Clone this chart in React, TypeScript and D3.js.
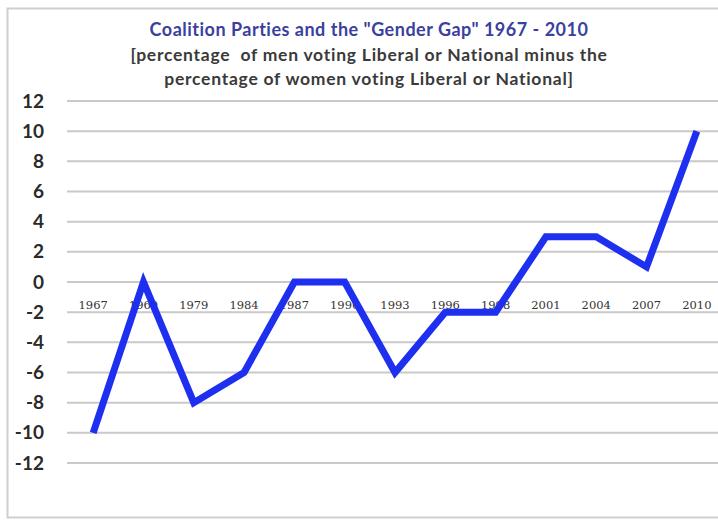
import React from "react";
import * as d3 from "d3";

const years = ["1967", "1969", "1979", "1984", "1987", "1990", "1993", "1996", "1998", "2001", "2004", "2007", "2010"];
const gap = [-10, 0, -8, -6, 0, 0, -6, -2, -2, 3, 3, 1, 10];
const yTicks = [12, 10, 8, 6, 4, 2, 0, -2, -4, -6, -8, -10, -12];
const title = 'Coalition Parties and the "Gender Gap" 1967 - 2010';
const subtitle1 = "[percentage  of men voting Liberal or National minus the";
const subtitle2 = "percentage of women voting Liberal or National]";

export default function App() {
  const W = 718, H = 520;
  const x = d3.scaleBand<string>().domain(years).range([68, 722]);
  const y = d3.scaleLinear().domain([-12, 12]).range([463, 101]);
  const line = d3
    .line<number>()
    .x((_, i) => (x(years[i]) as number) + x.bandwidth() / 2)
    .y((d) => y(d));
  return (
    <svg width={W} height={H} style={{ position: "absolute", left: 0, top: 0, background: "#fff" }}>
      <rect x={7.5} y={8.5} width={730} height={509} fill="#fff" stroke="#cfcfcf" strokeWidth={2} />
      <text x={369} y={36} textAnchor="middle" fill="#3b3f9e" fontFamily="Lato, sans-serif" fontWeight="bold" fontSize={18} letterSpacing={0.5} style={{ whiteSpace: "pre" }}>
        {title}
      </text>
      <text x={369} y={61} textAnchor="middle" fill="#3a3a3a" fontFamily="Lato, sans-serif" fontWeight="bold" fontSize={17.5} letterSpacing={0.75} style={{ whiteSpace: "pre" }}>
        {subtitle1}
      </text>
      <text x={369} y={85} textAnchor="middle" fill="#3a3a3a" fontFamily="Lato, sans-serif" fontWeight="bold" fontSize={17.5} letterSpacing={0.75}>
        {subtitle2}
      </text>
      {yTicks.map((t) => (
        <g key={t}>
          <line x1={67} x2={719} y1={y(t)} y2={y(t)} stroke="#c9c9c9" strokeWidth={2} />
          <text x={44} y={y(t) + 6.5} textAnchor="end" fill="#2a2a2a" fontFamily="Lato, sans-serif" fontWeight="bold" fontSize={19}>
            {t}
          </text>
        </g>
      ))}
      {years.map((yr) => (
        <text key={yr} x={(x(yr) as number) + x.bandwidth() / 2} y={y(0) + 27} textAnchor="middle" fill="#333" fontFamily="DejaVu Serif, serif" fontSize={11.5}>
          {yr}
        </text>
      ))}
      <path d={line(gap) || ""} fill="none" stroke="#1f2ff0" strokeWidth={7} strokeLinejoin="miter" />
    </svg>
  );
}
